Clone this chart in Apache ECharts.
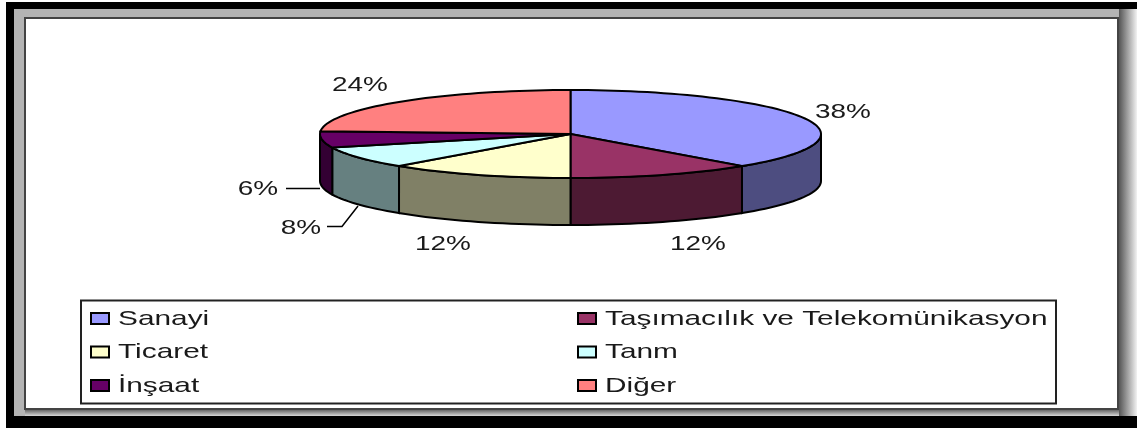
<!DOCTYPE html>
<html>
<head>
<meta charset="utf-8">
<style>
  html, body { margin: 0; padding: 0; background: #fff; }
  #chart { width: 1137px; height: 428px; }
</style>
</head>
<body>
<div id="chart"></div>
<script src="https://cdn.jsdelivr.net/npm/echarts@6/dist/echarts.min.js"></script>
<script>
const categories = ['Sanayi', 'Taşımacılık ve Telekomünikasyon', 'Ticaret', 'Tanm', 'İnşaat', 'Diğer'];
const shares = [38, 12, 12, 8, 6, 24];
const topColors = ['#9999ff', '#993366', '#ffffcc', '#ccffff', '#660066', '#ff8080'];
const sideColors = ['#4d4d80', '#4d1a33', '#808066', '#668080', '#330033', '#804040'];

// layout of the flattened pie
const cx = 570.5, cy = 134, rx = 250.5, ry = 44, depth = 47;
const labelPos = [[843, 112], [698, 244], [443, 244], [301, 228], [258, 189], [360, 85]];
const textColor = '#1a1a1a';
const total = shares.reduce((a, b) => a + b, 0);

function edge(deg, drop) {
  const r = deg * Math.PI / 180;
  return [cx + rx * Math.sin(r), cy - ry * Math.cos(r) + (drop || 0)];
}

function arc(from, to, drop) {
  const pts = [];
  const n = Math.max(1, Math.ceil(Math.abs(to - from) / 2));
  for (let i = 0; i <= n; i++) pts.push(edge(from + (to - from) * i / n, drop));
  return pts;
}

function wideText(text, x, y, size, scale, align) {
  return {
    type: 'text', x, y, scaleX: scale,
    style: {
      text, fill: textColor, font: size + 'px "Liberation Sans", Arial, sans-serif',
      textAlign: align, textVerticalAlign: 'middle', align, verticalAlign: 'middle'
    }
  };
}

function renderSlice(params, api) {
  const i = params.dataIndex;
  const before = shares.slice(0, i).reduce((a, b) => a + b, 0);
  const a0 = before / total * 360;
  const a1 = a0 + api.value(0) / total * 360;
  const line = { stroke: '#000', lineWidth: 2 };
  const children = [];

  // only the front half of the rim shows
  const w0 = Math.max(a0, 90), w1 = Math.min(a1, 270);
  if (w1 > w0) {
    children.push({
      type: 'polygon',
      shape: { points: arc(w0, w1, 0).concat(arc(w1, w0, depth)) },
      style: { fill: sideColors[i], ...line }
    });
  }
  children.push({
    type: 'polygon',
    shape: { points: [[cx, cy]].concat(arc(a0, a1, 0)) },
    style: { fill: topColors[i], ...line }
  });

  // leader lines for the two small slices
  if (i === 3) {
    children.push({
      type: 'polyline',
      shape: { points: [[327, 226.5], [342, 226.5], [358, 206]] },
      style: { stroke: '#000', lineWidth: 1.5, fill: null }
    });
  }
  if (i === 4) {
    children.push({
      type: 'line',
      shape: { x1: 286, y1: 188.5, x2: 320, y2: 188.5 },
      style: { stroke: '#000', lineWidth: 1.5 }
    });
  }
  children.push(wideText(shares[i] + '%', labelPos[i][0], labelPos[i][1], 21, 1.33, 'center'));
  return { type: 'group', children };
}

// window frame round the picture
const frame = [
  { type: 'rect', shape: { x: 6, y: 2, width: 1131, height: 426 }, style: { fill: '#000' } },
  { type: 'rect', shape: { x: 14, y: 9, width: 1123, height: 407 }, style: { fill: '#b4b4b4' } },
  {
    type: 'rect', shape: { x: 1119, y: 9, width: 18, height: 407 },
    style: { fill: { type: 'linear', x: 0, y: 0, x2: 1, y2: 0, colorStops: [
      { offset: 0, color: '#555' }, { offset: 1, color: '#f2f2f2' }
    ] } }
  },
  {
    type: 'rect', shape: { x: 25, y: 409, width: 1094, height: 7 },
    style: { fill: { type: 'linear', x: 0, y: 0, x2: 0, y2: 1, colorStops: [
      { offset: 0, color: '#555' }, { offset: 1, color: '#d8d8d8' }
    ] } }
  },
  { type: 'rect', shape: { x: 25, y: 18, width: 1093, height: 391 }, style: { fill: '#fff', stroke: '#444', lineWidth: 2 } }
];

// legend box, two columns of three rows
const legendCols = [91, 578];
const legendRows = [318.5, 352, 385.5];
const legendItems = [{ type: 'rect', shape: { x: 81, y: 300.5, width: 975, height: 103 }, style: { fill: '#fff', stroke: '#222', lineWidth: 2 } }];
categories.forEach((name, i) => {
  const x = legendCols[i % 2], y = legendRows[Math.floor(i / 2)];
  legendItems.push({
    type: 'rect', shape: { x, y: y - 5.5, width: 18, height: 11 },
    style: { fill: topColors[i], stroke: '#000', lineWidth: 2 }
  });
  legendItems.push(wideText(name, x + 27, y + 0.5, 21, 1.42, 'left'));
});

const chart = echarts.init(document.getElementById('chart'), null, { renderer: 'canvas' });
chart.setOption({
  animation: false,
  backgroundColor: '#fff',
  graphic: { elements: frame.concat(legendItems).map(el => ({ ...el, silent: true })) },
  series: [{
    type: 'custom',
    coordinateSystem: 'none',
    renderItem: renderSlice,
    z: 10,
    data: shares.map((v, i) => ({ name: categories[i], value: [v] }))
  }]
});
</script>
</body>
</html>
